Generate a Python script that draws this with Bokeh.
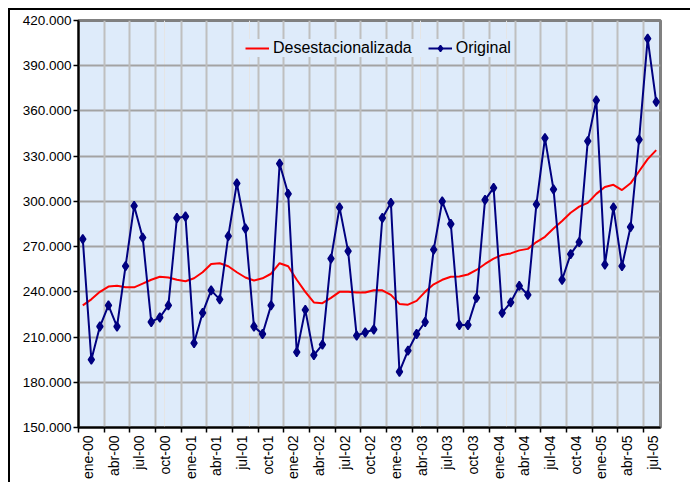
from math import pi
from bokeh.plotting import figure
from bokeh.models import (FixedTicker, LinearAxis, Range1d, Legend, LegendItem,
                          Grid, CustomJSTickFormatter, ColumnDataSource)
from bokeh.embed import file_html
from bokeh.resources import INLINE

month_abbr = ["ene", "feb", "mar", "abr", "may", "jun",
              "jul", "ago", "sep", "oct", "nov", "dic"]
years = ["00", "01", "02", "03", "04", "05"]
months = [f"{m}-{y}" for y in years for m in month_abbr][:68]  # ene-00 .. ago-05

original = [275, 195, 217, 231, 217, 257, 297, 276, 220, 223, 231, 289,
            290, 206, 226, 241, 235, 277, 312, 282, 217, 212, 231, 325,
            305, 200, 228, 198, 205, 262, 296, 267, 211, 213, 215, 289,
            299, 187, 201, 212, 220, 268, 300, 285, 218, 218, 236, 301,
            309, 226, 233, 244, 238, 298, 342, 308, 248, 265, 273, 340,
            367, 258, 296, 257, 283, 341, 408, 366]

desest = [231, 235, 240, 243.5, 244, 243, 243, 245.5, 248, 250, 249.5, 248,
          247, 249, 253, 258.5, 259, 257, 253, 249.5, 247.5, 249, 252, 259,
          257, 248, 240, 233, 232.5, 236, 240, 240, 239.5, 239.5, 241, 241,
          238, 232, 231.5, 234, 240, 245, 248, 250, 250.2, 251.5, 254.5, 258.5,
          262, 264.5, 265.5, 267.5, 268.5, 273, 276.5, 282, 287, 292.5, 296.5, 299,
          305, 309.5, 311, 307.5, 312, 320, 328, 334]

y_ticks = [150, 180, 210, 240, 270, 300, 330, 360, 390, 420]
y_tick_labels = ["150.000", "180.000", "210.000", "240.000", "270.000",
                 "300.000", "330.000", "360.000", "390.000", "420.000"]
x_tick_labels = months[::3]  # ene-00, abr-00, ... jul-05

FONT = "Liberation Sans"
BG = "#deebfa"

x_pos = [i + 0.5 for i in range(len(months))]
src = ColumnDataSource(dict(x=x_pos, orig=original, des=desest, m=months))

p = figure(frame_width=582, frame_height=407, output_backend="svg", toolbar_location=None,
           x_range=Range1d(0, len(months)), y_range=Range1d(150, 420),
           x_axis_location=None,
           min_border_left=68, min_border_right=30, min_border_top=10,
           min_border_bottom=40)
p.margin = (8, 0, 0, 8)
p.styles = {"border-top": "2px solid black", "border-left": "2px solid black"}

p.background_fill_color = BG
p.border_fill_color = "white"
p.outline_line_color = "#808080"
p.outline_line_width = 3

# y axis
ya = p.yaxis[0]
ya.ticker = FixedTicker(ticks=y_ticks)
ya.major_label_overrides = {t: l for t, l in zip(y_ticks, y_tick_labels)}
ya.axis_line_color = "black"
ya.axis_line_width = 2
ya.major_tick_line_color = "black"
ya.major_tick_line_width = 1.5
ya.major_tick_in = 0
ya.major_tick_out = 5
ya.minor_tick_line_color = None
ya.major_label_standoff = 2
ya.major_label_text_font = FONT
ya.major_label_text_font_size = "13.5px"
ya.major_label_text_color = "black"

p.ygrid.grid_line_color = "#a3a3a3"
p.ygrid.grid_line_width = 2

# x axis: ticks at month boundaries
x_tick_pos = [3 * i for i in range(len(x_tick_labels))]
xa = LinearAxis(ticker=FixedTicker(ticks=x_tick_pos))
xa.axis_line_color = "black"
xa.axis_line_width = 2
xa.major_tick_line_color = "black"
xa.major_tick_line_width = 1.5
xa.major_tick_in = 0
xa.major_tick_out = 5
xa.minor_tick_line_color = None
xa.major_label_standoff = 0
xa.major_label_text_font_size = "1px"
xa.major_label_text_alpha = 0
p.add_layout(xa, "below")

# x labels, slightly offset to the right as in the reference
xl = LinearAxis(ticker=FixedTicker(ticks=[t + 1.1 for t in x_tick_pos]),
                formatter=CustomJSTickFormatter(args=dict(labels=x_tick_labels),
                                                code="return labels[Math.round((tick - 1.1) / 3)];"))
xl.axis_line_color = None
xl.major_tick_line_color = None
xl.minor_tick_line_color = None
xl.major_label_standoff = -3
xl.major_label_orientation = pi / 2
xl.major_label_text_font = FONT
xl.major_label_text_font_size = "14px"
xl.major_label_text_color = "black"
p.add_layout(xl, "below")

xg = Grid(dimension=0, ticker=xa.ticker, grid_line_color="#bfbfbf", grid_line_width=2)
p.add_layout(xg)

r_des = p.line("x", "des", source=src, line_color="#ff0000", line_width=2)
r_orig = p.line("x", "orig", source=src, line_color="#000080", line_width=2)
r_pts = p.scatter("x", "orig", source=src, marker="diamond", size=9,
                  fill_color="#000080", line_color="#000080", line_width=1.5)

legend = Legend(items=[LegendItem(label="Desestacionalizada", renderers=[r_des]),
                       LegendItem(label="Original", renderers=[r_orig, r_pts])],
                orientation="horizontal", location=(167, 370))
legend.label_text_font = FONT
legend.label_text_font_size = "16px"
legend.label_text_color = "black"
legend.glyph_width = 24
legend.glyph_height = 16
legend.label_height = 16
legend.label_standoff = 4
legend.spacing = 16
legend.padding = 5
legend.margin = 0
legend.border_line_color = None
legend.background_fill_color = BG
legend.background_fill_alpha = 1
p.add_layout(legend)

open("out.html", "w").write(file_html(p, INLINE))
